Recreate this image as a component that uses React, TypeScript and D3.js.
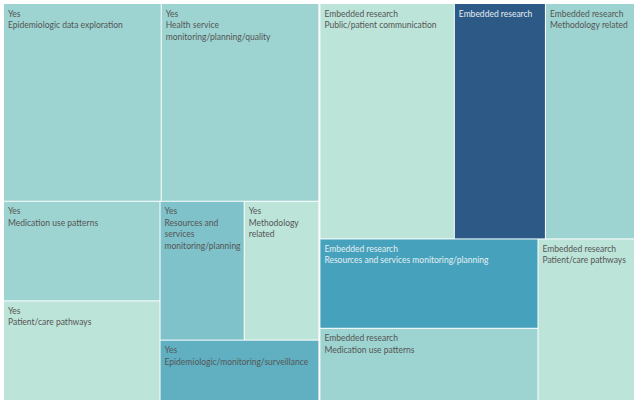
import React, { useMemo } from 'react';
import * as d3 from 'd3';

const groups = ['Yes', 'Embedded research'];

const yesCategories = [
  'Epidemiologic data exploration',
  'Health service monitoring/planning/quality',
  'Medication use patterns',
  'Patient/care pathways',
  'Resources and services monitoring/planning',
  'Methodology related',
  'Epidemiologic/monitoring/surveillance',
];
const yesValues = [40, 40, 20, 20, 15, 13.3, 12.3];

const embeddedCategories = [
  'Public/patient communication',
  '',
  'Methodology related',
  'Resources and services monitoring/planning',
  'Medication use patterns',
  'Patient/care pathways',
];
const embeddedValues = [40.6, 27.5, 26.9, 25.0, 20.2, 20.0];

// styles (separate from data)
const MINT = '#bde4d9';
const TEAL_L = '#9dd3d0';
const TEAL_M = '#7fc2ca';
const TEAL_D = '#60b0c2';
const TEAL_X = '#46a2bc';
const NAVY = '#2c5986';
const yesColors = [TEAL_L, TEAL_L, TEAL_L, MINT, TEAL_M, MINT, TEAL_D];
const embeddedColors = [MINT, NAVY, TEAL_L, TEAL_X, TEAL_L, MINT];
const lightText = new Set([NAVY, TEAL_X]);

const W = 639;
const H = 402;
const FONT_SIZE = 8.5;
const FONT_FAMILY = 'Lato, "Open Sans", sans-serif';
const LINE_H = 11.5;
const OX = 4;
const OY = 4;

type Leaf = { name: string; group: string; value: number; color: string };

function wrap(text: string, maxW: number, ctx: CanvasRenderingContext2D | null): string[] {
  if (!text) return [];
  const words = text.split(' ');
  const lines: string[] = [];
  let cur = '';
  const measure = (s: string) => (ctx ? ctx.measureText(s).width : s.length * 4.4);
  for (const w of words) {
    const test = cur ? cur + ' ' + w : w;
    if (cur && measure(test) > maxW) {
      lines.push(cur);
      cur = w;
    } else cur = test;
  }
  if (cur) lines.push(cur);
  return lines;
}

export default function App() {
  const leaves = useMemo(() => {
    const data = {
      name: 'root',
      children: [
        {
          name: groups[0],
          children: yesCategories.map((c, i) => ({ name: c, group: groups[0], value: yesValues[i], color: yesColors[i] })),
        },
        {
          name: groups[1],
          children: embeddedCategories.map((c, i) => ({ name: c, group: groups[1], value: embeddedValues[i], color: embeddedColors[i] })),
        },
      ],
    };
    const root = d3
      .hierarchy<any>(data)
      .sum((d: any) => d.value || 0)
      .sort((a, b) => (b.value || 0) - (a.value || 0));
    const tile = (node: any, x0: number, y0: number, x1: number, y1: number) => {
      if (node.depth === 0) d3.treemapSquarify.ratio(1)(node, x0, y0, x1, y1);
      else d3.treemapSquarify(node, x0, y0, x1, y1);
    };
    d3
      .treemap<any>()
      .tile(tile as any)
      .size([630, 396])
      .paddingInner((n: any) => (n.depth === 0 ? 2 : 1))
      .round(false)(root);
    return root.leaves() as d3.HierarchyRectangularNode<Leaf>[];
  }, []);

  const ctx = useMemo(() => {
    const c = document.createElement('canvas').getContext('2d');
    if (c) c.font = `${FONT_SIZE}px ${FONT_FAMILY}`;
    return c;
  }, []);

  return (
    <svg
      width={W}
      height={H}
      style={{ position: 'absolute', left: 0, top: 0, background: '#fff' }}
      fontFamily={FONT_FAMILY}
      fontSize={FONT_SIZE}
    >
      <g transform={`translate(${OX},${OY})`}>
        {leaves.map((lf, i) => {
          const d = lf.data;
          const w = lf.x1 - lf.x0;
          const lines = [d.group, ...wrap(d.name, w - 6, ctx)];
          const fill = lightText.has(d.color) ? '#e3eef2' : '#555555';
          return (
            <g key={i}>
              <rect x={lf.x0} y={lf.y0} width={w} height={lf.y1 - lf.y0} fill={d.color} />
              <text x={lf.x0 + 4} y={lf.y0 + 12.5} fill={fill}>
                {lines.map((l, j) => (
                  <tspan key={j} x={lf.x0 + 4} dy={j === 0 ? 0 : LINE_H}>
                    {l}
                  </tspan>
                ))}
              </text>
            </g>
          );
        })}
      </g>
    </svg>
  );
}
